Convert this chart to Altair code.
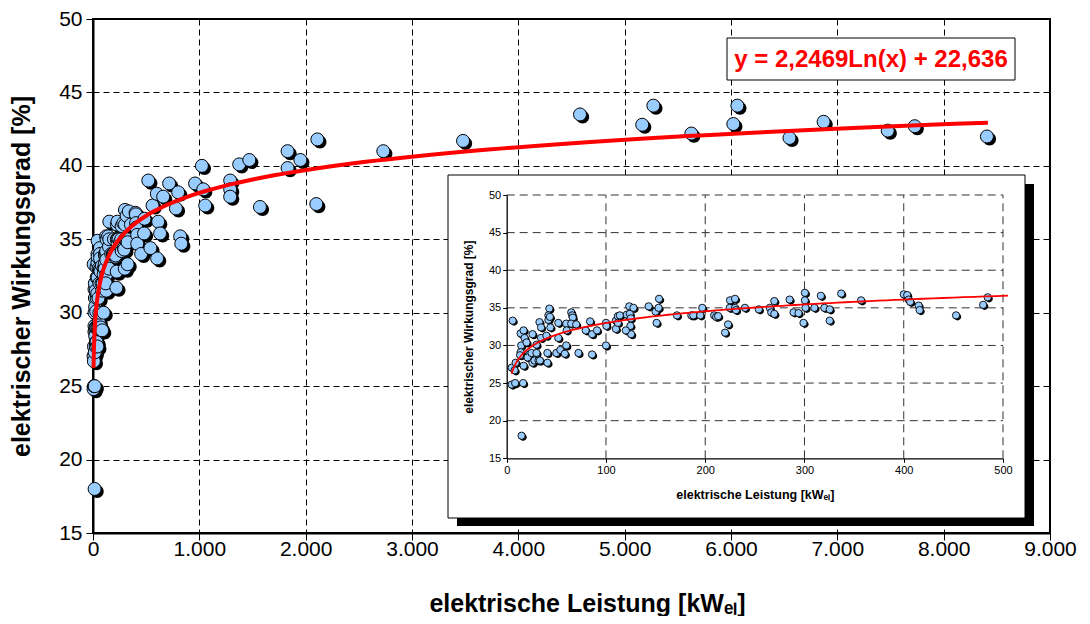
import altair as alt
import pandas as pd

# ---------------- data ----------------
# points of the inset (0 - 500 kW), also shown in the main chart
IN_X = [6, 5, 9, 8, 5, 8.5, 16.5, 15, 14, 17, 18, 14.6, 20, 14, 13.5, 17, 26, 22.7, 21, 25,
        26, 28, 30, 30, 32, 33.5, 33, 34.6, 34.6, 40, 41, 41, 43, 42, 42, 44, 43.5, 52, 52, 50,
        54, 60, 60.4, 58.5, 60, 65, 66, 66.5, 65, 70, 72.3, 79.6, 84, 86, 91, 86, 100, 100.4, 100, 110,
        110, 112, 114, 112, 121, 123.5, 124, 125, 124.6, 125.4, 120, 127.7, 143, 150, 151, 153.5, 153, 171.5, 186, 188,
        195, 197, 209, 211, 213, 223, 220, 225, 230, 224.6, 230, 231, 240, 254, 265, 266.5, 269.6, 269.6, 285, 289,
        294, 299, 300.4, 300.4, 301, 310, 316.5, 320, 325.4, 325.4, 337, 357, 400, 403.5, 405, 406.5, 415, 416, 452.7, 480,
        484.6]
IN_Y = [33.3, 27.05, 27.7, 26.7, 24.8, 25, 25, 18, 31.6, 32, 31, 30, 30.4, 29.1, 28.7, 27.3, 31.5, 28.8, 28.4, 29,
        27.7, 28, 30.1, 29, 28, 28, 33.1, 32.4, 31, 31.3, 29, 27.7, 34.9, 34, 33.4, 32.4, 33.8, 33, 31, 29,
        29.4, 32.9, 32, 28.9, 30, 34.4, 34, 33.7, 32.9, 32.8, 29, 32, 33.2, 31.5, 32, 28.8, 33, 32.6, 30, 33.3,
        32.2, 33.9, 34, 33, 34.1, 35.2, 34.2, 33.6, 32.6, 31.5, 32, 35, 35.2, 34.5, 33, 36.2, 35, 34, 34, 34,
        34, 35, 34, 33.8, 33.9, 32.8, 31.7, 36, 36.2, 35, 35, 34.7, 35, 34.8, 35, 34.4, 34.2, 35.9, 36.1, 34.4,
        34.3, 33, 37, 36, 35, 35, 36.6, 35, 34.8, 33.3, 36.9, 36, 36.8, 36.7, 36.1, 35.8, 35.3, 34.7, 34, 35.4,
        36.4]
# larger plants (> 500 kW), main chart only
BIG_X = [520, 560, 600, 613, 631, 603, 660, 716, 780, 801, 820, 830, 540, 960, 1024, 1037, 1055, 1290, 1290, 1290,
         1375, 1470, 1570, 1830, 1830, 1950, 2110, 2100, 2730, 3480, 4580, 5165, 5270, 5627, 6022, 6060, 6550, 6871,
         7474, 7728, 8407]
BIG_Y = [39.0, 37.3, 38.1, 36.2, 35.4, 33.7, 37.9, 38.8, 37.1, 38.2, 35.2, 34.7, 34.4, 38.8, 40.0, 38.4, 37.3, 39.0,
         38.4, 37.9, 40.1, 40.4, 37.2, 41.0, 39.85, 40.4, 41.8, 37.4, 41.0, 41.7, 43.5, 42.8, 44.1, 42.2, 42.85, 44.1,
         41.9, 43.0, 42.4, 42.7, 42.0]

TREND_A = 2.2469
TREND_B = 22.636
TREND_XMIN = 5
TREND_XMAX_MAIN = 8416
TREND_XMAX_INSET = 505
EQUATION = "y = 2,2469Ln(x) + 22,636"

MAIN_X_TICKS = [0, 1000, 2000, 3000, 4000, 5000, 6000, 7000, 8000, 9000]
MAIN_Y_TICKS = [15, 20, 25, 30, 35, 40, 45, 50]
INSET_X_TICKS = [0, 100, 200, 300, 400, 500]
INSET_Y_TICKS = [15, 20, 25, 30, 35, 40, 45, 50]

X_TITLE = "elektrische Leistung [kWₑₗ]"
Y_TITLE = "elektrischer Wirkungsgrad [%]"

# ---------------- layout / style ----------------
W, H = 957, 514
FONT = "Liberation Sans"
FILL = "#99CCFF"
RED = "#FF0000"
SHADOW_PATH = "M 1.4 0.4 A 1 1 0 1 1 -0.6 0.4 A 1 1 0 1 1 1.4 0.4 Z"

# inset placement (pixels inside the main plot area)
IN_L, IN_R, IN_T, IN_B = 413.7, 910.0, 176.0, 439.3
BOX = dict(x=355, x2=932, y=156, y2=499)
SHADOW = dict(x=364, x2=941, y=165, y2=507)

inset_df = pd.DataFrame({"x": IN_X, "y": IN_Y})
big_df = pd.DataFrame({"x": BIG_X, "y": BIG_Y})
all_df = pd.concat([inset_df, big_df], ignore_index=True)
one = pd.DataFrame({"k": [0]})

mx = alt.Scale(domain=[0, 9000], nice=False, zero=False)
my = alt.Scale(domain=[15, 50], nice=False, zero=False)
ix = alt.Scale(domain=[0, 500], range=[IN_L, IN_R], nice=False, zero=False)
iy = alt.Scale(domain=[15, 50], range=[IN_B, IN_T], nice=False, zero=False)

main_x_axis = alt.Axis(
    values=MAIN_X_TICKS, title=X_TITLE,
    labelExpr="replace(format(datum.value, ','), ',', '.')",
    labelFlush=False, grid=True, gridColor="black", gridDash=[6, 4], gridWidth=1,
    tickSize=7, tickColor="black", domainColor="black", domainWidth=2,
    labelFontSize=21, labelColor="black", labelPadding=-2,
    titleFontSize=25, titleFontWeight="bold", titleColor="black", titlePadding=32,
    titleX=494, titleAlign="center",
    zindex=0,
)
main_y_axis = alt.Axis(
    values=MAIN_Y_TICKS, title=Y_TITLE,
    grid=True, gridColor="black", gridDash=[6, 4], gridWidth=1,
    tickSize=7, tickColor="black", domainColor="black", domainWidth=2,
    labelFontSize=21, labelColor="black", labelPadding=4,
    titleFontSize=25, titleFontWeight="bold", titleColor="black", titlePadding=24,
    zindex=0,
)

main_shadow = alt.Chart(all_df).mark_point(
    shape=SHADOW_PATH, filled=True, color="black", size=169, opacity=1, strokeWidth=0
).encode(
    x=alt.X("x:Q", scale=mx, axis=main_x_axis),
    y=alt.Y("y:Q", scale=my, axis=main_y_axis),
)
main_pts = alt.Chart(all_df).mark_circle(
    size=169, color=FILL, stroke="black", strokeWidth=1, opacity=1
).encode(
    x=alt.X("x:Q", scale=mx),
    y=alt.Y("y:Q", scale=my),
)


def trend(xmin, xmax, xs, ys, width):
    return alt.Chart(alt.sequence(0, 1.0001, 0.005, as_="t")).transform_calculate(
        x=f"exp(log({xmin}) + datum.t * (log({xmax}) - log({xmin})))"
    ).transform_calculate(
        y=f"{TREND_A} * log(datum.x) + {TREND_B}"
    ).mark_line(color=RED, strokeWidth=width, clip=False).encode(
        x=alt.X("x:Q", scale=xs),
        y=alt.Y("y:Q", scale=ys),
    )


main_line = trend(TREND_XMIN, TREND_XMAX_MAIN, mx, my, 4)

eq_box = alt.Chart(one).mark_rect(fill="white", stroke="black", strokeWidth=1).encode(
    x=alt.value(634), x2=alt.value(922), y=alt.value(19), y2=alt.value(61)
)
eq_text = alt.Chart(one).mark_text(
    font=FONT, fontSize=24, fontWeight="bold", color=RED, align="center", baseline="middle"
).encode(x=alt.value(778), y=alt.value(41), text=alt.value(EQUATION))

main_layer = alt.layer(main_shadow, main_pts, main_line, eq_box, eq_text)

# ---------------- inset ----------------
in_shadow_box = alt.Chart(one).mark_rect(fill="black").encode(
    x=alt.value(SHADOW["x"]), x2=alt.value(SHADOW["x2"]),
    y=alt.value(SHADOW["y"]), y2=alt.value(SHADOW["y2"]),
)
in_box = alt.Chart(one).mark_rect(fill="white", stroke="black", strokeWidth=1).encode(
    x=alt.value(BOX["x"]), x2=alt.value(BOX["x2"]),
    y=alt.value(BOX["y"]), y2=alt.value(BOX["y2"]),
)

inset_x_axis = alt.Axis(
    orient="bottom", offset=IN_B - H, values=INSET_X_TICKS, title=X_TITLE,
    grid=False, labelFlush=False, tickSize=4, tickColor="black",
    domainColor="black", domainWidth=1.3,
    labelFontSize=11, labelColor="black", labelPadding=2,
    titleFontSize=12.5, titleFontWeight="bold", titleColor="black", titlePadding=13,
    zindex=1,
)
inset_y_axis = alt.Axis(
    orient="left", offset=-IN_L, values=INSET_Y_TICKS, title=Y_TITLE,
    grid=False, tickSize=4, tickColor="black",
    domainColor="black", domainWidth=1.3,
    labelFontSize=11, labelColor="black", labelPadding=2,
    titleFontSize=12, titleFontWeight="bold", titleColor="black", titlePadding=13,
    zindex=1,
)

gx_df = pd.DataFrame({"g": INSET_X_TICKS[1:]})
gy_df = pd.DataFrame({"g": INSET_Y_TICKS[1:]})
in_grid_v = alt.Chart(gx_df).mark_rule(color="#333333", strokeDash=[8, 5], strokeWidth=1).encode(
    x=alt.X("g:Q", scale=ix, axis=inset_x_axis),
    y=alt.Y(datum=15, scale=iy, axis=inset_y_axis),
    y2=alt.Y2(datum=50),
)
in_grid_h = alt.Chart(gy_df).mark_rule(color="#333333", strokeDash=[8, 5], strokeWidth=1).encode(
    y=alt.Y("g:Q", scale=iy),
    x=alt.X(datum=0, scale=ix),
    x2=alt.X2(datum=500),
)
in_pts_shadow = alt.Chart(inset_df).mark_point(
    shape=SHADOW_PATH, filled=True, color="black", size=53, opacity=1, strokeWidth=0
).encode(
    x=alt.X("x:Q", scale=ix),
    y=alt.Y("y:Q", scale=iy),
)
in_pts = alt.Chart(inset_df).mark_circle(
    size=53, color=FILL, stroke="black", strokeWidth=0.9, opacity=1
).encode(
    x=alt.X("x:Q", scale=ix),
    y=alt.Y("y:Q", scale=iy),
)
in_line = trend(TREND_XMIN, TREND_XMAX_INSET, ix, iy, 1.8)

inset_layer = alt.layer(in_shadow_box, in_box, in_grid_v, in_grid_h, in_pts_shadow, in_pts, in_line)

chart = alt.layer(main_layer, inset_layer).resolve_scale(
    x="independent", y="independent"
).properties(
    width=W, height=H, padding={"left": 1, "top": 0, "right": 5, "bottom": 0}, background="white"
).configure(
    font=FONT
).configure_view(
    stroke="black", strokeWidth=2
)

chart.save("out.html", embed_options={"renderer": "svg", "actions": False})
